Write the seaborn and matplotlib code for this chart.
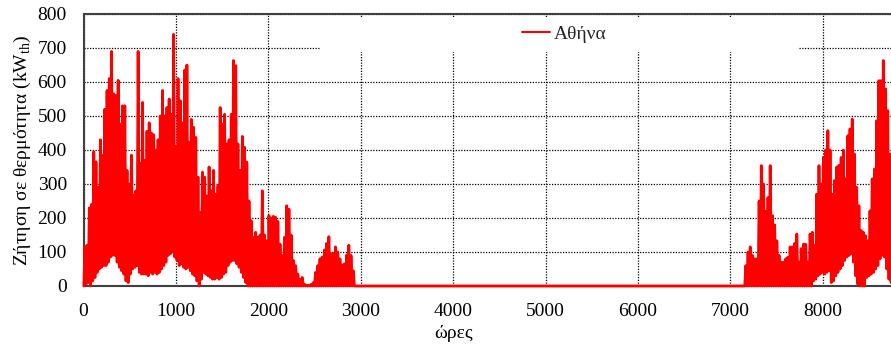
import numpy as np
import pandas as pd
import matplotlib
matplotlib.use("Agg")
import matplotlib.pyplot as plt
from matplotlib.patches import Rectangle
import seaborn as sns

# Daily peak and daily minimum heating demand (kW_th), Athens.
# Heating season 1: day 0 .. day 121
spring_max = [115, 120, 230, 240, 395, 365, 290, 430, 385, 520, 575, 610, 690, 565, 560, 605,
              476, 530, 530, 340, 300, 385, 266, 280, 690, 360, 540, 370, 455, 480, 450, 445, 400,
              430, 500, 575, 500, 525, 550, 505, 740, 410, 610, 545, 480, 635, 650, 423, 490,
              467, 437, 320, 217, 335, 320, 265, 350, 280, 340, 270, 295, 525, 476, 505, 418,
              430, 505, 663, 648, 418, 340, 440, 408, 364, 250, 192, 143, 158, 143, 150, 280,
              150, 133, 207, 200, 205, 202, 190, 123, 89, 143, 236, 226, 150, 75, 60, 35,
              20, 25, 5, 2, 2, 5, 10, 40, 60, 80, 85, 106, 125, 145, 95, 96, 115, 100, 80,
              62, 65, 91, 120, 90, 45]
spring_min = [0, 5, 10, 0, 15, 25, 40, 50, 55, 60, 60, 70, 85, 90, 90, 70,
              55, 45, 35, 15, 10, 35, 50, 55, 60, 40, 35, 35, 35, 30, 40, 35, 40,
              35, 40, 50, 60, 70, 90, 95, 100, 85, 75, 60, 65, 55, 50, 55, 45,
              35, 30, 15, 0, 20, 40, 35, 30, 25, 20, 20, 25, 20, 25, 35, 40,
              60, 70, 75, 75, 65, 55, 40, 25, 10, 0, 0, 0, 0, 0, 0, 0,
              0, 0, 0, 0, 0, 0, 0, 0, 0, 0, 0, 0, 0, 0, 0, 0,
              0, 0, 0, 0, 0, 0, 0, 0, 0, 0, 0, 0, 0, 0, 0, 0, 0, 0, 0,
              0, 0, 0, 0, 0, 0]

# No heating demand from day 122 to day 297
offseason_max = [0] * 176
offseason_min = [0] * 176

# Heating season 2: day 298 .. day 364
autumn_max = [60, 100, 115, 90, 80, 80, 250, 354, 300, 220, 260, 354, 207, 180, 133, 90,
              70, 70, 80, 85, 115, 115, 125, 153, 70, 110, 123, 123, 70, 153, 158,
              120, 270, 354, 300, 378, 400, 457, 400, 270, 310, 350, 355, 378, 400, 315,
              442, 462, 491, 388, 290, 236, 163, 158, 148, 133, 221, 315, 344, 486, 604,
              604, 663, 580, 516, 388, 280]
autumn_min = [0, 0, 0, 0, 0, 0, 0, 0, 0, 0, 0, 0, 0, 0, 0, 0,
              0, 0, 0, 0, 0, 0, 0, 0, 0, 0, 0, 0, 0, 0, 0,
              15, 20, 30, 35, 40, 35, 40, 45, 10, 15, 30, 40, 50, 60, 75,
              85, 90, 95, 70, 30, 5, 0, 0, 0, 25, 30, 35, 40, 50, 60,
              80, 90, 85, 50, 20, 10]

x_ticks = [0, 1000, 2000, 3000, 4000, 5000, 6000, 7000, 8000]
y_ticks = [0, 100, 200, 300, 400, 500, 600, 700, 800]
series_label = "Αθήνα"

daily_max = np.array(spring_max + offseason_max + autumn_max, dtype=float)
daily_min = np.array(spring_min + offseason_min + autumn_min, dtype=float)
day = np.arange(len(daily_max))

# Each day: night-time minimum, then afternoon peak
hours = np.column_stack([day * 24 + 4, day * 24 + 15]).ravel()
demand = np.column_stack([daily_min, daily_max]).ravel()
df = pd.DataFrame({"hour": hours, "demand": demand})

sns.set_theme(style="white")
plt.rcParams["font.family"] = ["Liberation Serif", "DejaVu Serif"]
plt.rcParams["mathtext.fontset"] = "custom"
plt.rcParams["mathtext.rm"] = "Liberation Serif"

fig = plt.figure(figsize=(8.91, 3.54), dpi=100)
ax = fig.add_axes([83.5 / 891, 68 / 354, 809.5 / 891, 272 / 354])

ax.set_axisbelow(True)
ax.grid(True, color="black", linestyle=(0, (1, 1.2)), linewidth=0.9)

# White backing behind the legend
ax.add_patch(Rectangle((0.293, 0.86), 0.59, 0.13, transform=ax.transAxes,
                       facecolor="white", edgecolor="none", zorder=1))

sns.lineplot(data=df, x="hour", y="demand", ax=ax, color="#ff0000", linewidth=2.0,
             estimator=None, sort=False, label=series_label, zorder=3)
for ln in ax.lines:
    ln.set_clip_on(False)
    ln.set_solid_joinstyle("round")

ax.set_xlim(0, 8760)
ax.set_ylim(0, 800)
ax.set_xticks(x_ticks)
ax.set_yticks(y_ticks)
ax.tick_params(axis="both", length=0, labelsize=14, colors="black", pad=12)

for side in ["top", "left", "bottom"]:
    ax.spines[side].set_color("#404040")
    ax.spines[side].set_linewidth(1.5)
ax.spines["right"].set_visible(False)

ax.set_xlabel("ώρες", fontsize=14, color="black")
ax.xaxis.set_label_coords(4000 / 8760, -0.145)
ax.set_ylabel("Ζήτηση σε θερμότητα (kW$_{\\mathrm{th}}$)", fontsize=14, color="black")
ax.yaxis.set_label_coords(-0.063, 0.5)

leg = ax.legend(loc="center", bbox_to_anchor=(0.594, 0.926), frameon=False,
                fontsize=14, handlelength=1.4, handletextpad=0.2, borderpad=0)
for h in leg.legend_handles:
    h.set_linewidth(1.5)

fig.savefig("out.png", dpi=100)
